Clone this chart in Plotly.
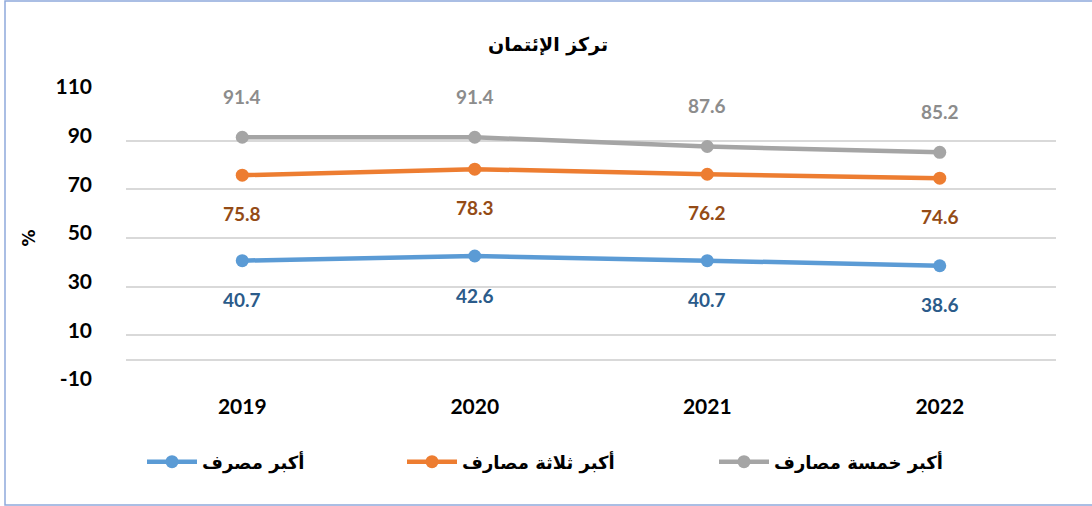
import plotly.graph_objects as go

years = ["2019", "2020", "2021", "2022"]
top1 = [40.7, 42.6, 40.7, 38.6]
top3 = [75.8, 78.3, 76.2, 74.6]
top5 = [91.4, 91.4, 87.6, 85.2]
names = ["أكبر مصرف", "أكبر ثلاثة مصارف", "أكبر خمسة مصارف"]
title_text = "تركز الإئتمان"
yticks = [-10, 10, 30, 50, 70, 90, 110]
yticktext = ["-10", "10", "30", "50", "70", "90", "110"]

W, H = 1092, 506
ml, mr, mt, mb = 126, 36, 92, 122
pw, ph = W - ml - mr, H - mt - mb
numfont = "Lato, Open Sans, sans-serif"
arfont = "DejaVu Sans, sans-serif"

series = [
    (names[0], top1, "#5B9BD5", "#2B5B8A", 39, "legend", 148),
    (names[1], top3, "#ED7D31", "#944B16", 38, "legend2", 408),
    (names[2], top5, "#A5A5A5", "#8C8C8C", -41, "legend3", 720),
]

fig = go.Figure()
annotations = []
legends = {}
for name, vals, col, lcol, shift, leg, lx in series:
    fig.add_trace(go.Scatter(
        x=years, y=vals, name=name, mode="lines+markers",
        line=dict(color=col, width=4.5),
        marker=dict(color=col, size=13),
        legend=leg,
    ))
    legends[leg] = dict(
        orientation="h", x=(lx - 6 - ml) / pw, xanchor="left",
        y=-(462 - (H - mb)) / ph, yanchor="middle",
        font=dict(family=arfont, size=18, color="#000000", weight="bold"),
        itemwidth=50, bgcolor="rgba(0,0,0,0)",
    )
    for i, yv in enumerate(vals):
        annotations.append(dict(
            x=i, y=yv, xref="x", yref="y", text="<b>%.1f</b>" % yv,
            showarrow=False, yshift=-shift,
            font=dict(family=numfont, size=19, color=lcol),
        ))

annotations.append(dict(
    x=(548 - ml) / pw, y=1 + (mt - 44) / ph, xref="paper", yref="paper",
    xanchor="center", yanchor="middle",
    text="<b>" + title_text + "</b>", showarrow=False,
    font=dict(family=arfont, size=19, color="#000000"),
))

fig.update_layout(
    width=W, height=H,
    margin=dict(l=ml, r=mr, t=mt, b=mb),
    paper_bgcolor="white", plot_bgcolor="white",
    showlegend=True,
    annotations=annotations,
    shapes=[dict(
        type="rect", xref="paper", yref="paper",
        x0=(5 - ml) / pw, x1=(W + 30 - ml) / pw,
        y0=-(505 - (H - mb)) / ph, y1=1 + (mt - 1) / ph,
        line=dict(color="#8EA9DB", width=1.5), layer="below",
    )],
    **legends,
)
fig.update_xaxes(
    type="category", range=[-0.5, 3.5], showgrid=False, showline=False,
    ticks="", ticklabelstandoff=8,
    tickfont=dict(family=numfont, size=21, color="#000000", weight="bold"),
)
fig.update_yaxes(
    range=[-10, 110], tickvals=yticks, ticktext=yticktext,
    showgrid=True, gridcolor="#D9D9D9", gridwidth=1.5,
    zeroline=True, zerolinecolor="#D9D9D9", zerolinewidth=1.5, showline=False, ticks="",
    ticklabelstandoff=33, ticklabelshift=-5,
    tickfont=dict(family=numfont, size=21, color="#000000", weight="bold"),
    title=dict(text="<b>%</b>", font=dict(family=arfont, size=17, color="#000000"), standoff=15),
)

fig.write_html("out.html", config={"displayModeBar": False},
               post_script="document.body.style.margin='0';")
